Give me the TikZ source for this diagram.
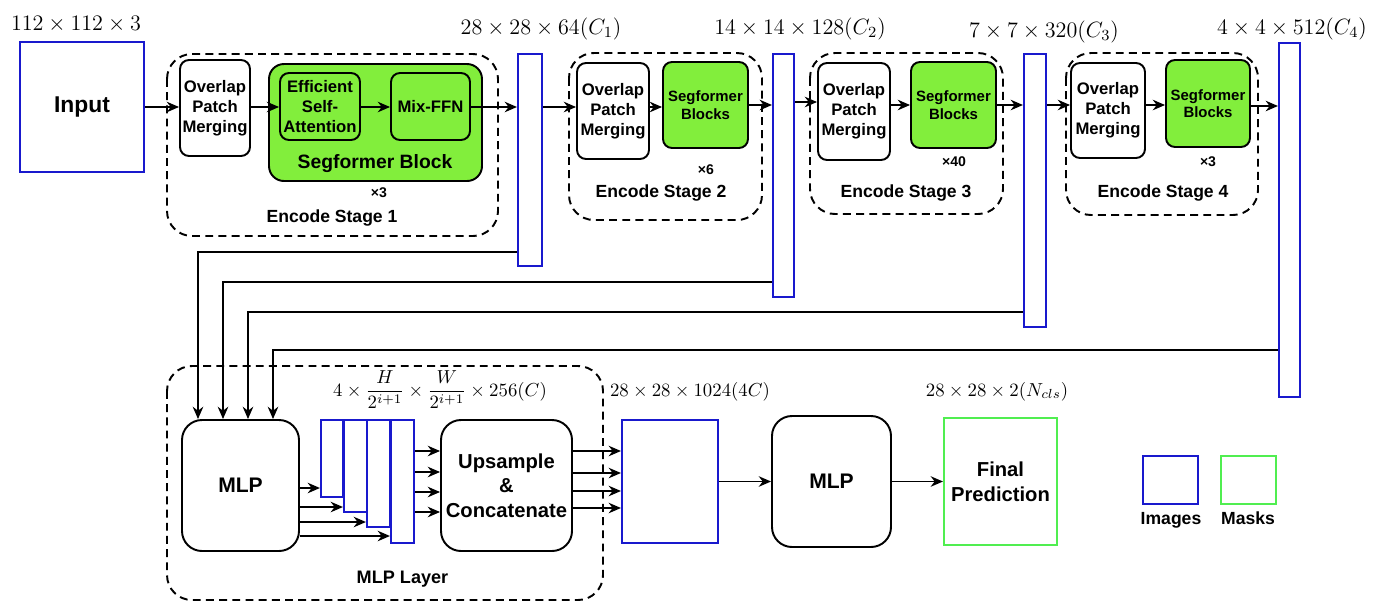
\RequirePackage{fix-cm}
\documentclass[tikz,border=0pt]{standalone}
\usepackage{amsmath}
\usepackage[no-math]{fontspec}
\setmainfont{Liberation Sans}
\usetikzlibrary{arrows.meta}
\definecolor{imgblue}{RGB}{25,25,205}
\definecolor{seggreen}{RGB}{130,238,60}
\definecolor{maskgreen}{RGB}{80,238,80}
\tikzset{
  sz/.style 2 args={minimum width=#1*0.02cm,minimum height=#2*0.02cm},
  blk/.style={draw,line width=1.1pt,rounded corners=0.18cm,align=center,inner sep=0pt,
    font=\fontsize{9.5}{11.5}\selectfont\bfseries},
  segblk/.style={blk,fill=seggreen},
  bigblk/.style={blk,rounded corners=0.4cm,font=\fontsize{11.5}{14}\selectfont\bfseries},
  fmap/.style={draw=imgblue,line width=1.2pt,inner sep=0pt},
  stagebox/.style={draw,line width=1.1pt,dash pattern=on 4.5pt off 3pt,rounded corners=0.5cm},
  arr/.style={->,>={Stealth[length=7pt,width=6pt]},line width=0.9pt},
  dimtxt/.style={anchor=base,inner sep=0pt,font=\fontsize{12.6}{15}\selectfont},
  dimsm/.style={anchor=base,inner sep=0pt,font=\fontsize{10.7}{13}\selectfont},
  lbl/.style={anchor=base,inner sep=0pt,font=\fontsize{10}{12}\selectfont\bfseries},
  rep/.style={anchor=base,inner sep=0pt,font=\fontsize{8}{9}\selectfont\bfseries},
}
\begin{document}
\begin{tikzpicture}[x=0.02cm,y=-0.02cm]
\useasboundingbox (0,0) rectangle (1386,603);

% encoder stages
\draw[stagebox] (167,54) rectangle (498,236);
\draw[stagebox] (569,53) rectangle (762,220);
\draw[stagebox] (810,53) rectangle (1003,214);
\draw[stagebox] (1066,53) rectangle (1258,215);

\node[fmap,sz={124}{130},font=\fontsize{13}{15}\selectfont\bfseries] (in1) at (82,107) {Input};
\node[dimtxt] (d0) at (76,30) {$112\times112\times3$};

% stage 1
\node[blk,sz={70}{96}] (opm1) at (215,108) {Overlap\\Patch\\Merging};
\node[segblk,sz={213}{117},rounded corners=0.3cm] (sb1) at (375.5,122.5) {};
\node[segblk,sz={80}{67}] (esa) at (320,106.5) {Efficient\\Self-\\Attention};
\node[segblk,sz={79}{67}] (ffn) at (430.5,106.5) {Mix-FFN};
\node[anchor=base,inner sep=0pt,font=\fontsize{11}{13}\selectfont\bfseries] (sbt) at (375,168) {Segformer Block};
\node[rep] (r1) at (379,197) {×3};
\node[lbl] (e1) at (332,222) {Encode Stage 1};
\node[fmap,sz={24}{212}] (f1) at (530,160) {};
\node[dimtxt] (d1) at (541,34) {$28\times28\times64(C_1)$};

% stage 2
\node[blk,sz={72}{96}] (opm2) at (613,111) {Overlap\\Patch\\Merging};
\node[segblk,sz={85}{86},font=\fontsize{8.5}{10}\selectfont\bfseries] (sb2) at (705.5,105) {Segformer\\Blocks};
\node[rep] (r2) at (706,174) {×6};
\node[lbl] (e2) at (661,197) {Encode Stage 2};
\node[fmap,sz={21}{243}] (f2) at (783.5,175.5) {};
\node[dimtxt] (d2) at (800,34) {$14\times14\times128(C_2)$};

% stage 3
\node[blk,sz={72}{97}] (opm3) at (854,111.5) {Overlap\\Patch\\Merging};
\node[segblk,sz={85}{86},font=\fontsize{8.5}{10}\selectfont\bfseries] (sb3) at (953.5,105) {Segformer\\Blocks};
\node[rep] (r3) at (954,166) {×40};
\node[lbl] (e3) at (906,197) {Encode Stage 3};
\node[fmap,sz={22}{273}] (f3) at (1035,190.5) {};
\node[dimtxt] (d3) at (1044,37) {$7\times7\times320(C_3)$};

% stage 4
\node[blk,sz={74}{95}] (opm4) at (1108,110.5) {Overlap\\Patch\\Merging};
\node[segblk,sz={84}{87},font=\fontsize{8.5}{10}\selectfont\bfseries] (sb4) at (1208,103.5) {Segformer\\Blocks};
\node[rep] (r4) at (1208,166) {×3};
\node[lbl] (e4) at (1163,197) {Encode Stage 4};
\node[fmap,sz={21}{354}] (f4) at (1289.5,220) {};
\node[dimtxt] (d4) at (1292,34) {$4\times4\times512(C_4)$};

% encoder arrows
\draw[arr] (in1.east |- 0,107) -- (opm1.west |- 0,107);
\draw[arr] (opm1.east |- 0,107) -- (esa.west |- 0,107);
\draw[arr] (esa.east |- 0,107) -- (ffn.west |- 0,107);
\draw[arr] (ffn.east |- 0,107) -- (f1.west |- 0,107);
\draw[arr] (f1.east |- 0,107) -- (opm2.west |- 0,107);
\draw[arr] (opm2.east |- 0,107) -- (sb2.west |- 0,107);
\draw[arr] (sb2.east |- 0,105) -- (f2.west |- 0,105);
\draw[arr] (f2.east |- 0,102) -- (opm3.west |- 0,102);
\draw[arr] (opm3.east |- 0,105) -- (sb3.west |- 0,105);
\draw[arr] (sb3.east |- 0,105) -- (f3.west |- 0,105);
\draw[arr] (f3.east |- 0,105) -- (opm4.west |- 0,105);
\draw[arr] (opm4.east |- 0,105) -- (sb4.west |- 0,105);
\draw[arr] (sb4.east |- 0,106) -- (f4.west |- 0,106);

% decoder
\draw[stagebox] (167,366) rectangle (603,600);
\node[lbl,font=\fontsize{10.3}{12}\selectfont\bfseries] (ml) at (402.5,583) {MLP Layer};
\node[bigblk,sz={117}{131},font=\fontsize{12}{14}\selectfont\bfseries] (mlp) at (240.5,485.5) {MLP};
\node[fmap,sz={22}{77}] (fm1) at (332,458.5) {};
\node[fmap,sz={23}{92}] (fm2) at (355.5,466) {};
\node[fmap,sz={23}{107}] (fm3) at (378.5,473.5) {};
\node[fmap,sz={23}{123}] (fm4) at (402.5,481.5) {};
\node[dimsm] (d5) at (440,396) {$4\times\dfrac{H}{2^{i+1}}\times\dfrac{W}{2^{i+1}}\times256(C)$};
\node[bigblk,sz={131}{131}] (up) at (506.5,485.5) {Upsample\\\&\\Concatenate};
\node[fmap,sz={96}{123}] (cat) at (670,481.5) {};
\node[dimsm] (d6) at (690,396) {$28\times28\times1024(4C)$};
\node[bigblk,sz={119}{131},font=\fontsize{12}{14}\selectfont\bfseries] (mlp2) at (831.5,481.5) {MLP};
\node[draw=maskgreen,line width=1.2pt,sz={113}{127},align=center,
  font=\fontsize{11.5}{14}\selectfont\bfseries] (pred) at (1000.5,481.5) {Final\\Prediction};
\node[dimsm] (d7) at (997,396) {$28\times28\times2(N_{cls})$};

% skip connections
\draw[arr] (f1.west |- 0,252) -| (mlp.north -| 198,0);
\draw[arr] (f2.west |- 0,282) -| (mlp.north -| 223,0);
\draw[arr] (f3.west |- 0,312) -| (mlp.north -| 248,0);
\draw[arr] (f4.west |- 0,350) -| (mlp.north -| 273,0);

\foreach \i/\y in {1/488,2/507,3/522,4/536}
  \draw[arr] (mlp.east |- 0,\y) -- (fm\i.west |- 0,\y);
\foreach \y in {451,472,492,512}
  \draw[arr] (fm4.east |- 0,\y) -- (up.west |- 0,\y);
\foreach \y in {451,473,491,508}
  \draw[arr] (up.east |- 0,\y) -- (cat.west |- 0,\y);
\draw[arr] (cat) -- (mlp2);
\draw[arr] (mlp2) -- (pred);

% legend
\node[fmap,sz={55}{48}] (limg) at (1170.5,480) {};
\node[draw=maskgreen,line width=1.2pt,sz={55}{48}] (lmask) at (1248.5,480) {};
\node[lbl] (timg) at (1171,524) {Images};
\node[lbl] (tmask) at (1248,524) {Masks};

\end{tikzpicture}
\end{document}
